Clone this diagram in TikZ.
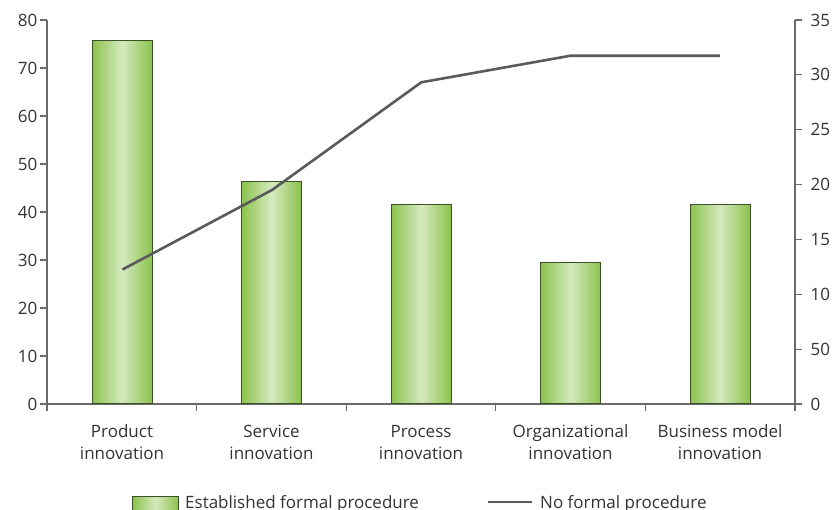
\documentclass[tikz,border=0pt]{standalone}
\usepackage{fontspec}
\setmainfont{Open Sans}
\usetikzlibrary{positioning}
\definecolor{barGreen}{HTML}{8BC34D}
\definecolor{barLight}{HTML}{D5E8BF}
\definecolor{barEdge}{HTML}{3C5128}
\definecolor{lineGray}{HTML}{5A5A5A}
\definecolor{axisGray}{HTML}{6A6A6A}
\definecolor{txtGray}{HTML}{333333}
\tikzset{
    x=1pt, y=-1pt,
    bar/.style = {draw=barEdge, line width=1pt, left color=barGreen, right color=barGreen,
                  middle color=barLight, minimum width=60pt, inner sep=0pt, anchor=south},
    cat/.style = {align=center, text=txtGray, font=\fontsize{17}{21.5}\selectfont, anchor=base, inner sep=0pt},
    tick/.style = {text=txtGray, font=\fontsize{17}{20}\selectfont, inner sep=0pt},
    axis/.style = {draw=axisGray, line width=1.2pt},
    trend/.style = {draw=lineGray, line width=2.6pt}
}
\begin{document}
\begin{tikzpicture}
    \useasboundingbox (0,0) rectangle (832,509);

    % axes
    \draw[axis] (47,20) -- (47,404) -- (795,404);
    \draw[axis] (795,20) -- (795,411);
    \foreach \k in {0,...,8}
        \draw[axis] (40,404-\k*48) -- (47,404-\k*48) node[tick, anchor=east, xshift=-9pt] {\pgfmathparse{int(\k*10)}\pgfmathresult};
    \foreach \lab [count=\k from 0] in {0,50,10,15,20,25,30,35}
        \draw[axis] (795,404-\k*54.857) -- (802,404-\k*54.857) node[tick, anchor=west, xshift=8pt] {\lab};
    \foreach \k in {0,...,4}
        \draw[axis] (47+\k*149.6,404) -- (47+\k*149.6,411);

    % bars
    \node[bar, minimum height=363.3pt] (prod) at (122,404) {};
    \node[bar, minimum height=222.3pt] (serv) at (271.5,404) {};
    \node[bar, minimum height=198.7pt] (proc) at (421,404) {};
    \node[bar, minimum height=140.7pt] (org) at (570.5,404) {};
    \node[bar, minimum height=199.3pt] (bus) at (720,404) {};

    % categories
    \node[cat] (prodlab) at (122,459) {Product\\innovation};
    \node[cat] (servlab) at (271.5,459) {Service\\innovation};
    \node[cat] (proclab) at (421,459) {Process\\innovation};
    \node[cat] (orglab) at (570.5,459) {Organizational\\innovation};
    \node[cat] (buslab) at (720,459) {Business model\\innovation};

    % no formal procedure
    \coordinate (p1) at (122.5,269.5);
    \coordinate (p2) at (272,190);
    \coordinate (p3) at (421.3,82.3);
    \coordinate (p4) at (570.6,55.7);
    \coordinate (p5) at (719.8,55.7);
    \draw[trend] (p1) -- (p2) -- (p3) -- (p4) -- (p5);

    % legend
    \node[bar, minimum width=46pt, minimum height=16pt, anchor=north west] (legbar) at (132,496) {};
    \node[cat, anchor=base west] (legbarlab) at (185,508) {Established formal procedure};
    \coordinate (l1) at (488,502);
    \coordinate (l2) at (532,502);
    \draw[trend] (l1) -- (l2);
    \node[cat, anchor=base west] (leglinelab) at (540,508) {No formal procedure};
\end{tikzpicture}
\end{document}
